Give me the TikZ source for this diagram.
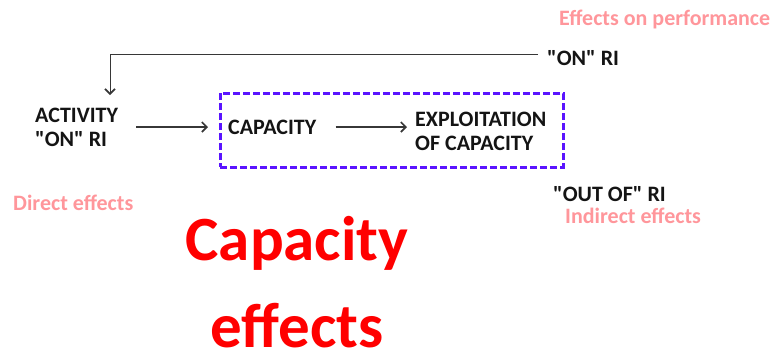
\documentclass[tikz,border=0pt]{standalone}
\usepackage{fontspec}
\setmainfont{Carlito}
\usetikzlibrary{arrows.meta}
\definecolor{pinktxt}{RGB}{255,150,155}
\definecolor{boxblue}{RGB}{90,20,255}
\definecolor{inkdark}{RGB}{20,20,20}
\newcommand{\qq}{\textquotedbl}
\tikzset{
  lbl/.style={inner sep=0pt, font=\bfseries\fontsize{22}{24}\selectfont, text=inkdark, align=left},
  pinklbl/.style={inner sep=0pt, font=\bfseries\fontsize{22}{24}\selectfont, text=pinktxt},
  bigred/.style={inner sep=0pt, font=\bfseries\fontsize{63}{87}\selectfont, text=red, align=center},
  arr/.style={draw=inkdark!85, line width=1.3pt, -{Straight Barb[length=5pt,width=10pt,line width=1.6pt]}},
  groupbox/.style={draw=boxblue, line width=3pt, dash pattern=on 7pt off 3pt, inner sep=0pt}
}
\begin{document}
\begin{tikzpicture}[x=1pt,y=-1pt]
\useasboundingbox (0,0) rectangle (779,357);
% dashed group box
\node[groupbox, minimum width=343pt, minimum height=74pt] (group) at (391.5,130) {};
% texts
\node[pinklbl, anchor=base west] (perf) at (559,25) {Effects on performance};
\node[lbl, anchor=base west] (onri) at (547,65) {\qq ON\qq{} RI};
\node[lbl, anchor=west] (activity) at (35,127.5) {ACTIVITY\\\qq ON\qq{} RI};
\node[lbl, anchor=west] (capacity) at (228,127) {CAPACITY};
\node[lbl, anchor=west] (expl) at (415,131.5) {EXPLOITATION\\OF CAPACITY};
\node[lbl, anchor=base west] (outof) at (553,201) {\qq OUT OF\qq{} RI};
\node[pinklbl, anchor=base west] (direct) at (13,210) {Direct effects};
\node[pinklbl, anchor=base west] (indirect) at (565,223) {Indirect effects};
\node[bigred] (title) at (297,282) {Capacity\\effects};
% connectors
\coordinate (lineend) at (538,54);
\coordinate (atop) at (110,95);
\draw[arr, line width=1pt] (lineend) -| (atop);
\draw[arr] ([xshift=18pt]activity.east |- capacity.west) -- ([xshift=-20pt]capacity.west);
\draw[arr] ([xshift=19pt]capacity.east) -- ([xshift=-8pt]capacity.east -| expl.west);
\end{tikzpicture}
\end{document}
